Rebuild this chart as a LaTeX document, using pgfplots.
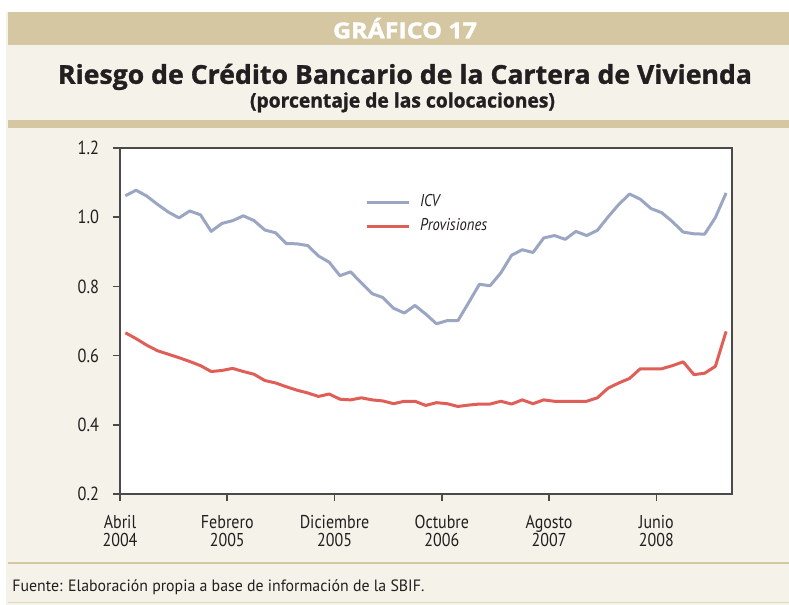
\documentclass[border=0pt]{standalone}
\usepackage{pgfplots}
\pgfplotsset{compat=1.18}
\usepackage{graphicx}
\usepackage{fontspec}
\setmainfont{PT Sans}[FakeStretch=0.86]
\newfontfamily\titlefont{Open Sans}[BoldFeatures={FakeBold=1.2}]
\newfontfamily\headfont{Open Sans}[BoldFeatures={FakeBold=1.5}]
\definecolor{bg}{HTML}{F5F2EA}
\definecolor{tanc}{HTML}{D4C7A1}
\definecolor{icv}{HTML}{9BA6C3}
\definecolor{prov}{HTML}{DF5F58}
\definecolor{txt}{HTML}{231F20}
\definecolor{axisgray}{HTML}{4A4A4A}
\pgfplotstableread{
x y
0 1.062
1 1.078
2 1.061
3 1.037
4 1.015
5 0.998
6 1.018
7 1.007
8 0.959
9 0.982
10 0.990
11 1.004
12 0.990
13 0.963
14 0.955
15 0.924
16 0.923
17 0.918
18 0.888
19 0.870
20 0.831
21 0.842
22 0.810
23 0.779
24 0.768
25 0.737
26 0.723
27 0.745
28 0.720
29 0.692
30 0.701
31 0.701
32 0.753
33 0.806
34 0.802
35 0.839
36 0.890
37 0.906
38 0.898
39 0.940
40 0.947
41 0.936
42 0.959
43 0.947
44 0.962
45 1.001
46 1.037
47 1.067
48 1.052
49 1.025
50 1.013
51 0.987
52 0.957
53 0.952
54 0.951
55 0.999
56 1.070
}\icvtable
\pgfplotstableread{
x y
0 0.666
1 0.649
2 0.630
3 0.614
4 0.604
5 0.594
6 0.583
7 0.571
8 0.554
9 0.557
10 0.563
11 0.554
12 0.546
13 0.528
14 0.521
15 0.510
16 0.500
17 0.492
18 0.482
19 0.489
20 0.474
21 0.472
22 0.478
23 0.472
24 0.469
25 0.461
26 0.468
27 0.468
28 0.456
29 0.464
30 0.461
31 0.453
32 0.457
33 0.460
34 0.460
35 0.468
36 0.460
37 0.472
38 0.461
39 0.472
40 0.468
41 0.468
42 0.468
43 0.468
44 0.478
45 0.506
46 0.521
47 0.534
48 0.562
49 0.562
50 0.562
51 0.571
52 0.582
53 0.545
54 0.549
55 0.569
56 0.670
}\provtable
\begin{document}
\begin{tikzpicture}[x=0.5pt,y=-0.5pt]
\useasboundingbox (0,0) rectangle (789,605);
\fill[white] (0,0) rectangle (789,605);
\fill[bg] (6,12) rectangle (789,605);
\fill[tanc] (8,12) rectangle (789,45);
\node[anchor=base, inner sep=0pt, text=white, font=\fontsize{11}{13}\headfont\bfseries] at (405,38.3) {\resizebox{72pt}{\height}{GRÁFICO 17}};
\node[anchor=base, inner sep=0pt, text=txt, font=\fontsize{13}{15}\titlefont\bfseries] at (405,83.8) {\resizebox{347pt}{\height}{Riesgo de Crédito Bancario de la Cartera de Vivienda}};
\node[anchor=base, inner sep=0pt, text=txt, font=\fontsize{10}{12}\titlefont\bfseries] at (402.5,107.5) {\resizebox{152.5pt}{\height}{(porcentaje de las colocaciones)}};
\fill[tanc] (8,120) rectangle (789,128);
\fill[tanc] (8,562) rectangle (789,564);
\fill[tanc!70] (8,602) rectangle (789,603);
\node[anchor=base west, inner sep=0pt, text=txt, font=\fontsize{8.2}{10}\selectfont] at (12,591) {\resizebox{206pt}{\height}{Fuente: Elaboración propia a base de información de la SBIF.}};
\begin{axis}[
  at={(60pt,-247pt)}, anchor=south west, scale only axis,
  width=306pt, height=173pt,
  xmin=-0.5, xmax=56.55, ymin=0.2, ymax=1.2,
  axis background/.style={fill=white},
  axis line style={axisgray, line width=0.85pt},
  xtick={-0.5,9.5,19.5,29.5,39.5,49.5},
  xticklabels={Abril\\2004, Febrero\\2005, Diciembre\\2005, Octubre\\2006, Agosto\\2007, Junio\\2008},
  xticklabel style={align=center, font=\fontsize{9.3}{9.3}\selectfont, text=txt, yshift=-3.5pt},
  ytick={0.2,0.4,0.6,0.8,1.0,1.2},
  yticklabels={0.2,0.4,0.6,0.8,1.0,1.2},
  yticklabel style={font=\fontsize{9.5}{11}\selectfont, text=txt, xshift=-3.5pt},
  tick align=outside, major tick length=3.5pt,
  tick style={axisgray, line width=0.85pt},
  xtick pos=bottom, ytick pos=left,
  legend cell align=left,
  legend style={draw=none, fill=none, at={(0.39,0.89)}, anchor=north west,
    font=\fontsize{8.5}{10}\selectfont\itshape, text=txt, row sep=0.5pt,
    /tikz/every odd column/.append style={column sep=3pt}},
  legend image code/.code={\draw[#1] (0pt,0pt) -- (21pt,0pt);},
]
\addplot[icv, line width=1.5pt, line join=round] table[x=x,y=y] {\icvtable};
\addlegendentry{ICV}
\addplot[prov, line width=1.5pt, line join=round] table[x=x,y=y] {\provtable};
\addlegendentry{Provisiones}
\end{axis}
\end{tikzpicture}
\end{document}
